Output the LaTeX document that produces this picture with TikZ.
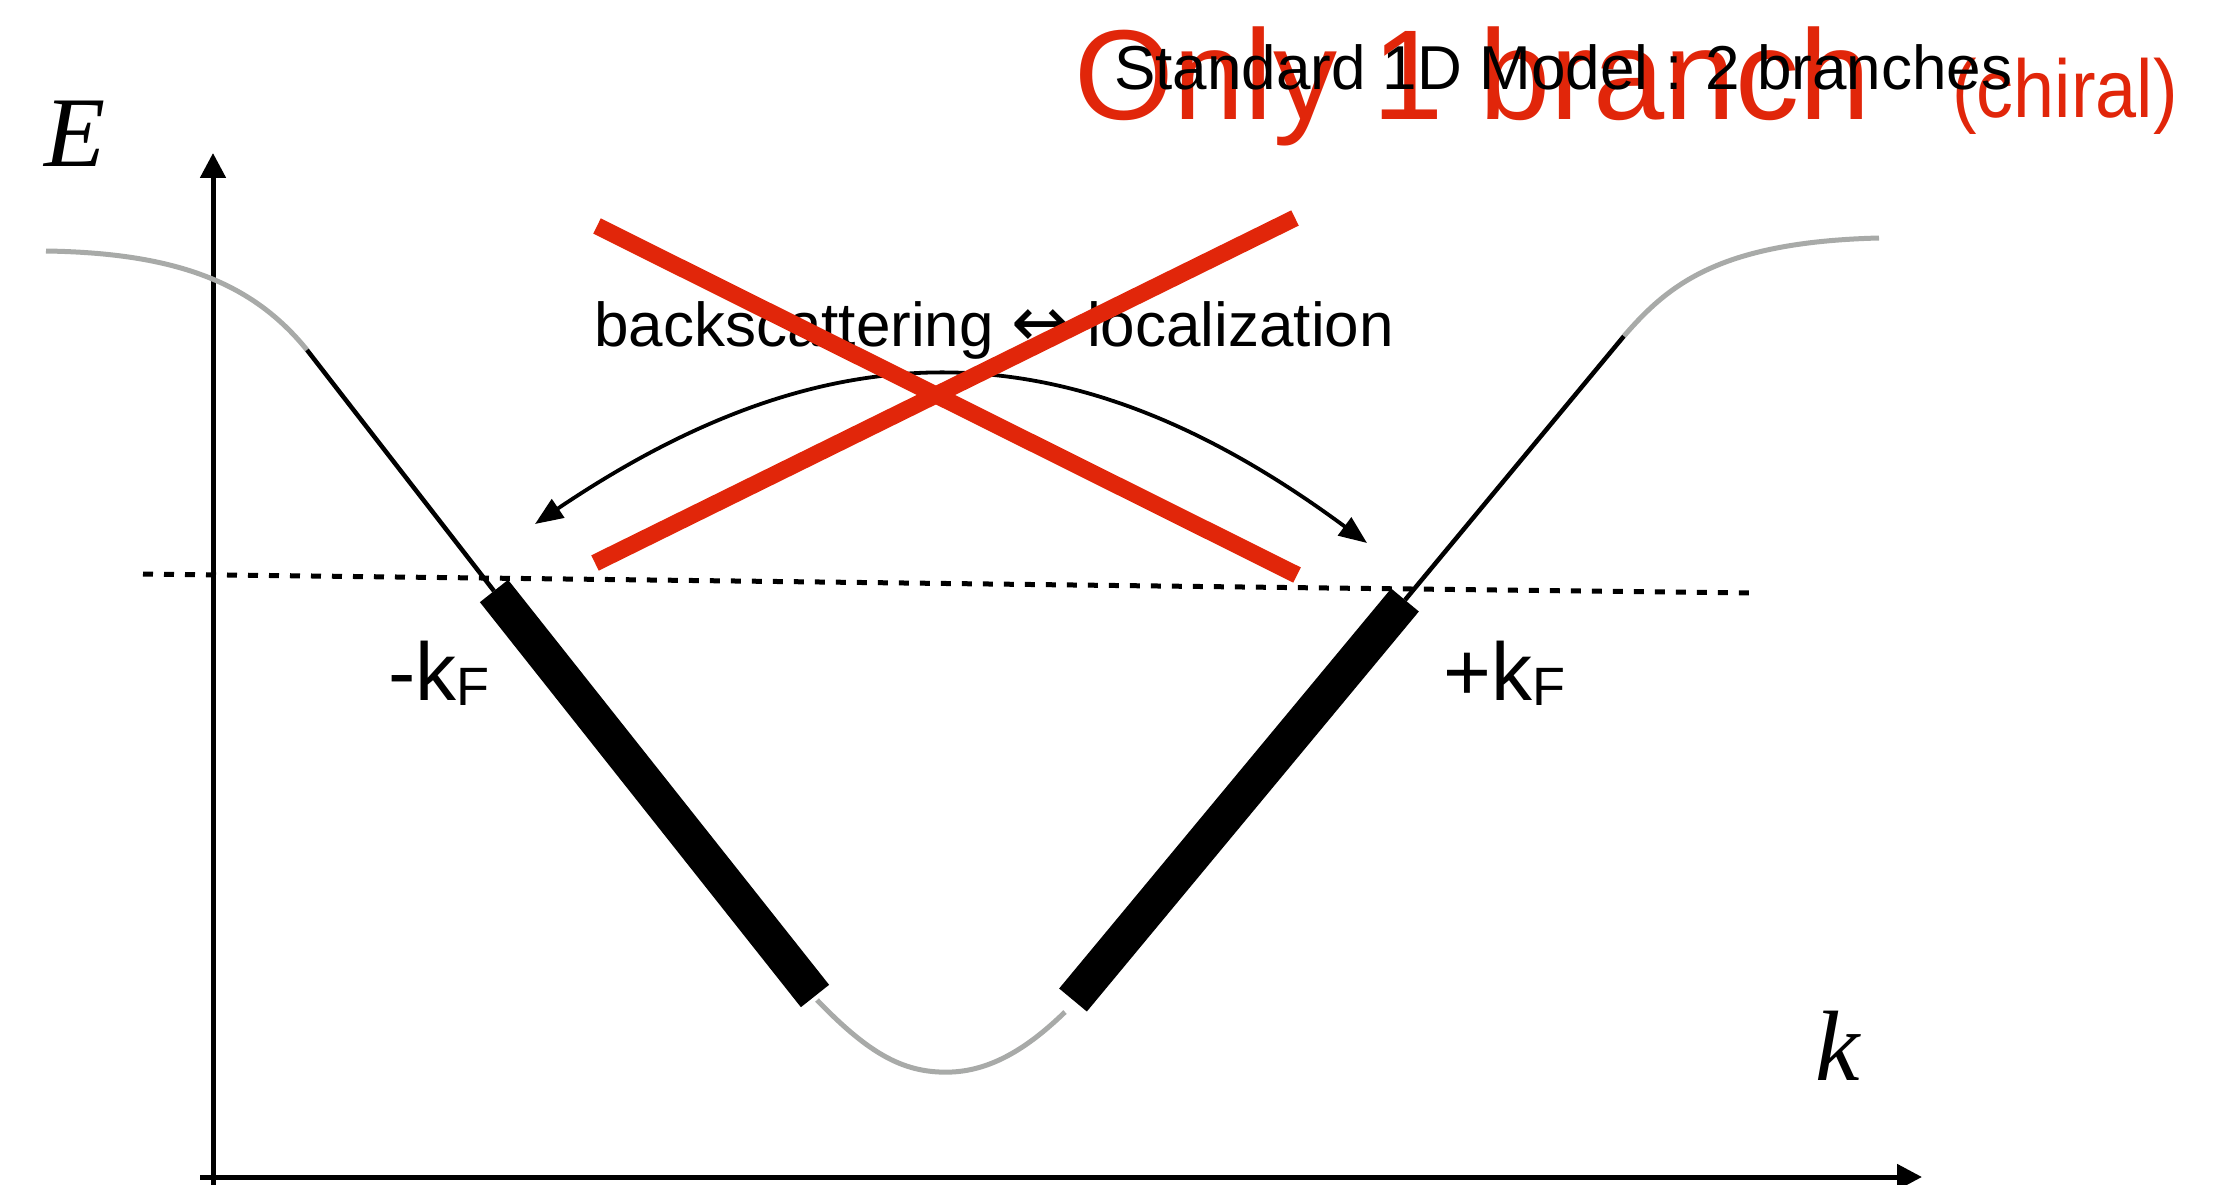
\documentclass[tikz,border=0pt]{standalone}
\usepackage{fontspec}
\usepackage{graphicx}
\setmainfont{Liberation Sans}
\newfontfamily\timesf{Liberation Serif}
\newfontfamily\dejavu{DejaVu Sans}
\usetikzlibrary{arrows.meta}
\definecolor{myred}{RGB}{225,38,10}
\definecolor{mygray}{RGB}{168,170,168}
\begin{document}
\begin{tikzpicture}[x=1pt,y=-1pt,
  txt/.style={inner sep=0pt, anchor=base west},
  axisline/.style={line width=5pt, -{Triangle[length=25pt,width=25pt]}},
  greycurve/.style={mygray, line width=5pt},
  thinline/.style={black, line width=4.5pt},
  thickbar/.style={black, line width=36pt},
  fermi/.style={black, line width=5pt, dash pattern=on 10pt off 11pt},
  redx/.style={myred, line width=17pt},
  scatarrow/.style={black, line width=3.8pt, {Triangle[length=28pt,width=22pt]}-{Triangle[length=28pt,width=22pt]}}
]
\useasboundingbox (0,0) rectangle (2239,1185);

% axes
\coordinate (yb) at (213,1185);
\coordinate (yt) at (213,153);
\coordinate (xl) at (200,1177);
\coordinate (xr) at (1922,1177);
\draw[axisline] (yb) -- (yt);
\draw[axisline] (xl) -- (xr);
\node[txt] (Elab) at (44,167) {\fontsize{100}{110}\selectfont\timesf\itshape E};
\node[txt] (klab) at (1815,1080) {\fontsize{100}{110}\selectfont\timesf\itshape k};

% dispersion
\coordinate (g1) at (46,251);
\coordinate (t1) at (307,350);
\coordinate (b1) at (494,591);
\coordinate (b2) at (815,996);
\coordinate (g2) at (817,1000);
\coordinate (gm) at (952,1072);
\coordinate (g3) at (1065,1012);
\coordinate (b3) at (1073,1000);
\coordinate (b4) at (1405,600);
\coordinate (t4) at (1624,336);
\coordinate (g4) at (1879,238);

\draw[greycurve] (g1) .. controls (175,253) and (252,282) .. (t1);
\draw[thinline] (t1) -- (b1);
\draw[greycurve] (g2) .. controls (870,1055) and (905,1074) .. (gm)
                      .. controls (995,1070) and (1032,1044) .. (g3);
\draw[thinline] (b4) -- (t4);
\draw[greycurve] (t4) .. controls (1669,284) and (1720,242) .. (g4);

% Fermi level
\coordinate (fl) at (143,574);
\coordinate (fr) at (1750,593);
\draw[fermi] (fl) -- (fr);

\draw[thickbar] (b1) -- (b2);
\draw[thickbar] (b3) -- (b4);

\node[txt] (kmin) at (388,700) {\fontsize{82}{90}\selectfont -k\raisebox{-5pt}{\fontsize{54}{60}\selectfont F}};
\node[txt] (kplus) at (1443,700) {\fontsize{82}{90}\selectfont +k\raisebox{-5pt}{\fontsize{54}{60}\selectfont F}};

% scattering
\node[txt] (scat) at (594,346) {\fontsize{62}{70}\selectfont backscattering {\fontsize{70}{70}\selectfont\dejavu\char"2194} localization};
\coordinate (al) at (535,524);
\coordinate (ar) at (1367,543);
\draw[scatarrow] (al) .. controls (831,324) and (1071,324) .. (ar);

% red cross
\coordinate (r1a) at (597,226);
\coordinate (r1b) at (1297,575);
\coordinate (r2a) at (595,563);
\coordinate (r2b) at (1295,218);
\draw[redx] (r1a) -- (r1b);
\draw[redx] (r2a) -- (r2b);

% titles
\node[txt, text=myred] (only) at (1074,120) {\fontsize{128}{140}\selectfont Only 1 branch};
\node[txt, text=myred] (chiral) at (1952,118) {\fontsize{82}{90}\selectfont\scalebox{0.9}[1]{(chiral)}};
\node[txt] (std) at (1114,90) {\fontsize{62}{70}\selectfont Standard 1D Model : 2 branches};
\end{tikzpicture}
\end{document}
